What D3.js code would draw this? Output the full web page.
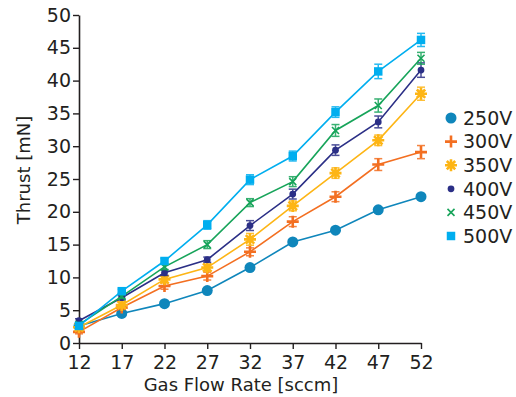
<!DOCTYPE html>
<html>
<head>
<meta charset="utf-8">
<script src="https://cdn.jsdelivr.net/npm/d3@7/dist/d3.min.js"></script>
<style>
  body { margin: 0; background: #fff; }
  text { font-family: "DejaVu Sans", sans-serif; fill: #231f20; }
</style>
</head>
<body>
<svg id="chart"></svg>
<script>
"use strict";

var width  = 516,
    height = 397;

// data
var flow = [12, 17, 22, 27, 32, 37, 42, 47, 52];
var voltages = ["250V", "300V", "350V", "400V", "450V", "500V"];

var t250 = [2.6, 4.5, 6.0, 8.0, 11.5, 15.4, 17.2, 20.3, 22.3];
var t300 = [1.7, 5.4, 8.7, 10.2, 13.9, 18.5, 22.3, 27.2, 29.1];
var t350 = [2.4, 5.8, 9.7, 11.5, 15.8, 20.9, 25.9, 30.9, 38.0];
var t400 = [3.4, 6.9, 10.7, 12.7, 17.9, 22.7, 29.4, 33.7, 41.6];
var t450 = [2.8, 7.1, 11.6, 15.0, 21.4, 24.6, 32.4, 36.2, 43.4];
var t500 = [2.6, 7.9, 12.5, 18.0, 24.9, 28.5, 35.2, 41.4, 46.2];

var e250 = [0.3, 0.3, 0.3, 0.3, 0.3, 0.3, 0.3, 0.3, 0.3];
var e300 = [0.3, 0.3, 0.5, 0.6, 0.6, 0.75, 0.75, 0.9, 1.0];
var e350 = [0.3, 0.4, 0.5, 0.5, 0.9, 0.75, 0.8, 0.8, 1.0];
var e400 = [0.3, 0.3, 0.4, 0.4, 0.75, 0.75, 0.8, 0.9, 1.1];
var e450 = [0.3, 0.3, 0.4, 0.6, 0.6, 0.75, 0.9, 1.0, 0.9];
var e500 = [0.3, 0.3, 0.4, 0.65, 0.75, 0.75, 0.8, 1.1, 1.0];

var xTicks = [12, 17, 22, 27, 32, 37, 42, 47, 52];
var yTicks = [0, 5, 10, 15, 20, 25, 30, 35, 40, 45, 50];

var colors = ["#0f86bb", "#f36f21", "#fdb515", "#2b2f86", "#17a45a", "#00aeef"];
var values = [t250, t300, t350, t400, t450, t500];
var errors = [e250, e300, e350, e400, e450, e500];

var margin = {left: 79, right: 95, top: 15, bottom: 54};

var chart = d3.select("#chart")
              .attr("width", width)
              .attr("height", height);

var x = d3.scaleLinear()
          .domain([12, 52])
          .range([margin.left, width - margin.right]);

var y = d3.scaleLinear()
          .domain([0, 50])
          .range([height - margin.bottom, margin.top]);

// marker shapes
function markerPath(kind) {
    if (kind === 0) return d3.symbol().type(d3.symbolCircle).size(95)();
    if (kind === 3) return d3.symbol().type(d3.symbolCircle).size(36)();
    if (kind === 5) return d3.symbol().type(d3.symbolSquare).size(72)();
    if (kind === 1) return "M-6,0H6M0,-6V6";
    if (kind === 2) return "M-6,0H6M0,-6V6M-4.2,-4.2L4.2,4.2M-4.2,4.2L4.2,-4.2";
    return "M-3.5,-3.5L3.5,3.5M-3.5,3.5L3.5,-3.5";
}

function drawMarker(sel, kind, color) {
    var p = sel.append("path").attr("d", markerPath(kind));
    if (kind === 0 || kind === 3 || kind === 5) {
        p.attr("fill", color).attr("stroke", "none");
    } else {
        p.attr("fill", "none").attr("stroke", color)
         .attr("stroke-width", kind === 4 ? 1.6 : 2.6);
    }
}

// axes
var xAxis = d3.axisBottom(x).tickValues(xTicks).tickSize(6).tickPadding(3).tickSizeOuter(0);
var yAxis = d3.axisLeft(y).tickValues(yTicks).tickSize(6).tickPadding(2).tickSizeOuter(0);

var gx = chart.append("g")
              .attr("transform", "translate(0," + y(0) + ")")
              .call(xAxis);
var gy = chart.append("g")
              .attr("transform", "translate(" + x(12) + ",0)")
              .call(yAxis);

[gx, gy].forEach(function(g) {
    g.select(".domain").attr("stroke", "#231f20").attr("stroke-width", 1.6);
    g.selectAll(".tick line").attr("stroke", "#231f20").attr("stroke-width", 1.4);
    g.selectAll(".tick text").style("font-size", "19px").attr("fill", "#231f20");
});
gx.selectAll(".tick text").attr("dy", "0.9em");

chart.append("text")
     .attr("x", 241)
     .attr("y", 391)
     .attr("text-anchor", "middle")
     .style("font-size", "18px")
     .text("Gas Flow Rate [sccm]");

chart.append("text")
     .attr("transform", "translate(30,170) rotate(-90)")
     .attr("text-anchor", "middle")
     .style("font-size", "18px")
     .text("Thrust [mN]");

// series
var line = d3.line()
             .x(function(d) { return x(d[0]); })
             .y(function(d) { return y(d[1]); });

values.forEach(function(vals, s) {
    var color = colors[s];
    var pts = flow.map(function(f, i) { return [f, vals[i], errors[s][i]]; });
    var g = chart.append("g").attr("class", "series-" + voltages[s]);

    g.append("path")
     .datum(pts)
     .attr("d", line)
     .attr("fill", "none")
     .attr("stroke", color)
     .attr("stroke-width", 1.6);

    var eb = g.selectAll(".err")
              .data(pts)
              .enter().append("g")
              .attr("class", "err")
              .attr("stroke", color)
              .attr("stroke-width", 1.5)
              .attr("opacity", 0.85);
    eb.append("line")
      .attr("x1", function(d) { return x(d[0]); })
      .attr("x2", function(d) { return x(d[0]); })
      .attr("y1", function(d) { return y(d[1] - d[2]); })
      .attr("y2", function(d) { return y(d[1] + d[2]); });
    eb.append("line")
      .attr("x1", function(d) { return x(d[0]) - 4; })
      .attr("x2", function(d) { return x(d[0]) + 4; })
      .attr("y1", function(d) { return y(d[1] + d[2]); })
      .attr("y2", function(d) { return y(d[1] + d[2]); });
    eb.append("line")
      .attr("x1", function(d) { return x(d[0]) - 4; })
      .attr("x2", function(d) { return x(d[0]) + 4; })
      .attr("y1", function(d) { return y(d[1] - d[2]); })
      .attr("y2", function(d) { return y(d[1] - d[2]); });

    g.selectAll(".mark")
     .data(pts)
     .enter().append("g")
     .attr("class", "mark")
     .attr("transform", function(d) { return "translate(" + x(d[0]) + "," + y(d[1]) + ")"; })
     .each(function() { drawMarker(d3.select(this), s, color); });
});

// legend
var legend = chart.append("g").attr("transform", "translate(451,118)");
voltages.forEach(function(v, i) {
    var row = legend.append("g").attr("transform", "translate(0," + (i * 23.6) + ")");
    drawMarker(row, i, colors[i]);
    row.append("text")
       .attr("x", 12)
       .attr("dy", "0.36em")
       .style("font-size", "19px")
       .text(v);
});
</script>
</body>
</html>
